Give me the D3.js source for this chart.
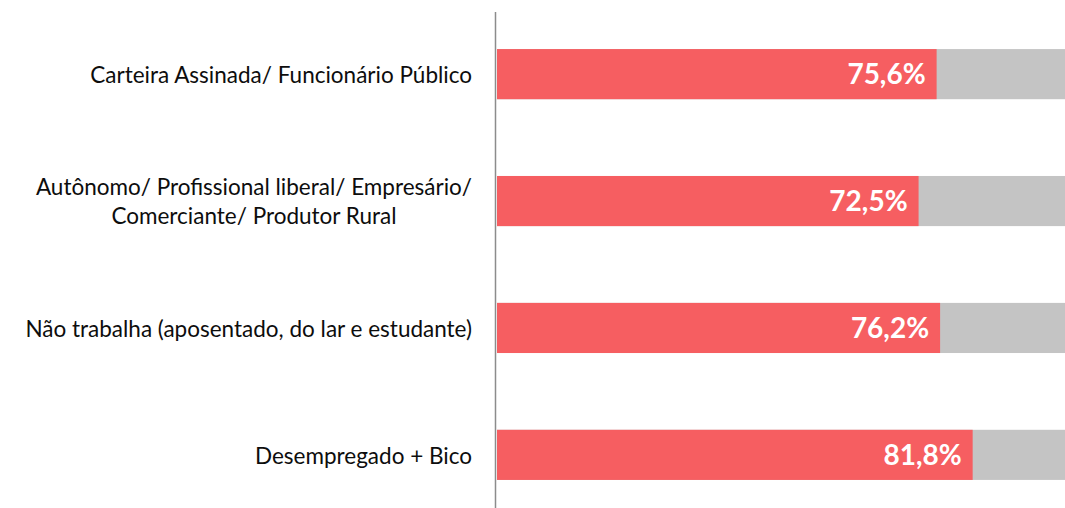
<!DOCTYPE html>
<html>
<head>
<meta charset="utf-8">
<script src="https://cdn.jsdelivr.net/npm/d3@7"></script>
<style>
  body { margin: 0; background: #fff; }
  text { font-family: "Lato", "Open Sans", sans-serif; }
</style>
</head>
<body>
<div id="chart-area"></div>
<script>
const W = 1065, H = 508

// Data
const categories = [
    ["Carteira Assinada/ Funcionário Público"],
    ["Autônomo/ Profissional liberal/ Empresário/", "Comerciante/ Produtor Rural"],
    ["Não trabalha (aposentado, do lar e estudante)"],
    ["Desempregado + Bico"]
]
const values = [75.6, 72.5, 76.2, 81.8]
const labels = ["75,6%", "72,5%", "76,2%", "81,8%"]

const svg = d3.select("#chart-area").append("svg")
    .attr("width", W)
    .attr("height", H)

// Scales
const x = d3.scaleLinear()
    .domain([0, 100])
    .range([497, 1078.5])

const y = d3.scaleBand()
    .domain(d3.range(values.length))
    .range([11, 518])
    .paddingInner(0.605)
    .paddingOuter(0.3)

// background (rest of 100%)
svg.selectAll("rect.bg")
    .data(values)
    .enter().append("rect")
    .attr("class", "bg")
    .attr("x", x(0))
    .attr("y", (d, i) => y(i))
    .attr("width", x(100) - x(0))
    .attr("height", y.bandwidth())
    .attr("fill", "#c4c4c4")

svg.selectAll("rect.val")
    .data(values)
    .enter().append("rect")
    .attr("class", "val")
    .attr("x", x(0))
    .attr("y", (d, i) => y(i))
    .attr("width", d => x(d) - x(0))
    .attr("height", y.bandwidth())
    .attr("fill", "#f65e61")

// value labels
svg.selectAll("text.val")
    .data(values)
    .enter().append("text")
    .attr("class", "val")
    .attr("x", d => x(d) - 11)
    .attr("y", (d, i) => y(i) + y.bandwidth() / 2)
    .attr("dy", "0.36em")
    .attr("text-anchor", "end")
    .attr("font-size", "28px")
    .attr("font-weight", "bold")
    .attr("fill", "#fff")
    .text((d, i) => labels[i])

// axis line
svg.append("line")
    .attr("x1", 495.5).attr("x2", 495.5)
    .attr("y1", 12).attr("y2", H)
    .attr("stroke", "#8c8c8c")
    .attr("stroke-width", 1.5)

// category labels: block right-aligned at 472, lines centered in block
const RIGHT = 472
const LH = 29
categories.forEach((lines, i) => {
    const cy = y(i) + y.bandwidth() / 2 + 1
    const g = svg.append("g")
    const texts = lines.map((ln, j) => g.append("text")
        .attr("y", cy + (j - (lines.length - 1) / 2) * LH)
        .attr("dy", "0.35em")
        .attr("font-size", "22.5px")
        .attr("fill", "#0d0d0d")
        .attr("text-anchor", "middle")
        .text(ln))
    const maxW = d3.max(texts, t => t.node().getComputedTextLength())
    texts.forEach(t => t.attr("x", RIGHT - maxW / 2))
})
</script>
</body>
</html>
